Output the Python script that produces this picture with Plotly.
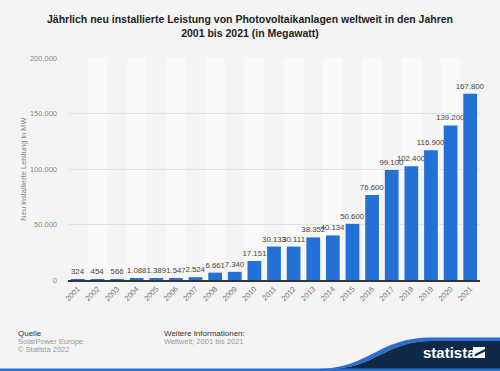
import plotly.graph_objects as go

years = [str(y) for y in range(2001, 2022)]
values = [324, 454, 566, 1088, 1389, 1547, 2524, 6661, 7340, 17151, 30133, 30111,
          38352, 40134, 50600, 76600, 99100, 102400, 116900, 139200, 167800]
y_ticks = [0, 50000, 100000, 150000, 200000]

W, H = 500, 371
L, R, T, B = 68, 20, 58, 91
PW, PH = W - L - R, H - T - B
FONT = "Liberation Sans, Arial, sans-serif"


def px(x):
    return (x - L) / PW


def py(y):
    return (H - B - y) / PH


fig = go.Figure(go.Bar(
    x=years, y=values,
    marker=dict(color="#2470d6", line=dict(width=0)),
    text=values, texttemplate="%{y:,}", textposition="outside",
    textfont=dict(size=7.8, color="#444", family=FONT),
    constraintext="none",
    cliponaxis=False, width=0.7,
))

shapes = []
for i in range(1, len(years), 2):
    shapes.append(dict(type="rect", xref="x", yref="paper", x0=i - 0.5, x1=i + 0.5,
                       y0=0, y1=1, fillcolor="#f9f9f9", line=dict(width=0), layer="below"))

# statista logo band
navy = (f"M {px(328)},{py(369)} C {px(375)},{py(369)} {px(385)},{py(341)} {px(432)},{py(341)} "
        f"L {px(500)},{py(341)} L {px(500)},{py(369)} Z")
blue = (f"M {px(318)},{py(369)} C {px(370)},{py(368)} {px(378)},{py(337.5)} {px(432)},{py(337.5)} "
        f"L {px(500)},{py(337.5)} L {px(500)},{py(341)} L {px(432)},{py(341)} "
        f"C {px(385)},{py(341)} {px(375)},{py(369)} {px(328)},{py(369)} Z")
shapes.append(dict(type="path", xref="paper", yref="paper", path=blue,
                   fillcolor="#2a6fd0", line=dict(width=0)))
shapes.append(dict(type="path", xref="paper", yref="paper", path=navy,
                   fillcolor="#0f2946", line=dict(width=0)))
shapes.append(dict(type="rect", xref="paper", yref="paper", x0=px(0), x1=px(500),
                   y0=py(371), y1=py(368.5), fillcolor="#2a6fd0", line=dict(width=0)))
# logo icon
shapes.append(dict(type="rect", xref="paper", yref="paper", x0=px(473), x1=px(485),
                   y0=py(358), y1=py(347), fillcolor="white", line=dict(width=0)))
shapes.append(dict(type="path", xref="paper", yref="paper",
                   path=f"M {px(473)},{py(355)} L {px(485)},{py(349)} L {px(485)},{py(351.5)} L {px(473)},{py(357.5)} Z",
                   fillcolor="#0f2946", line=dict(width=0)))

annotations = [
    dict(text="Quelle", x=px(16), y=py(333), font=dict(size=8, color="#333")),
    dict(text="SolarPower Europe", x=px(16), y=py(341), font=dict(size=7.5, color="#999")),
    dict(text="© Statista 2022", x=px(16), y=py(349), font=dict(size=7.5, color="#999")),
    dict(text="Weitere Informationen:", x=px(162), y=py(333), font=dict(size=8, color="#333")),
    dict(text="Weltweit; 2001 bis 2021", x=px(162), y=py(341), font=dict(size=7.5, color="#999")),
    dict(text="<b>statista</b>", x=px(421), y=py(352.5), font=dict(size=15, color="white")),
]
for a in annotations:
    a.update(xref="paper", yref="paper", xanchor="left", yanchor="middle", showarrow=False)
    a["font"]["family"] = FONT

fig.update_layout(
    width=W, height=H,
    margin=dict(l=L, r=R, t=T, b=B, autoexpand=False),
    paper_bgcolor="#f4f4f4", plot_bgcolor="#f4f4f4",
    separators=",.",
    font=dict(family=FONT),
    showlegend=False,
    title=dict(text="<b>Jährlich neu installierte Leistung von Photovoltaikanlagen weltweit in den Jahren<br>2001 bis 2021 (in Megawatt)</b>",
               x=0.5, xanchor="center", xref="container", y=1 - 23 / H, yanchor="middle",
               font=dict(size=10.5, color="#222", family=FONT)),
    bargap=0.3,
    shapes=shapes,
    annotations=annotations,
)

fig.update_xaxes(type="category", tickangle=-45, showgrid=False,
                 showline=True, linecolor="#333", linewidth=1.5,
                 tickfont=dict(size=7.5, color="#777"), ticks="")
fig.update_yaxes(range=[0, 200000], tickvals=y_ticks, tickformat=",d",
                 showgrid=True, gridcolor="#e3e3e3", gridwidth=1, zeroline=False,
                 tickfont=dict(size=7.5, color="#888"), ticklabelstandoff=10,
                 title=dict(text="Neu installierte Leistung in MW", standoff=2,
                            font=dict(size=7.5, color="#888")))

fig.write_html("out.html", config={"displayModeBar": False},
               post_script="document.body.style.margin='0px';")
